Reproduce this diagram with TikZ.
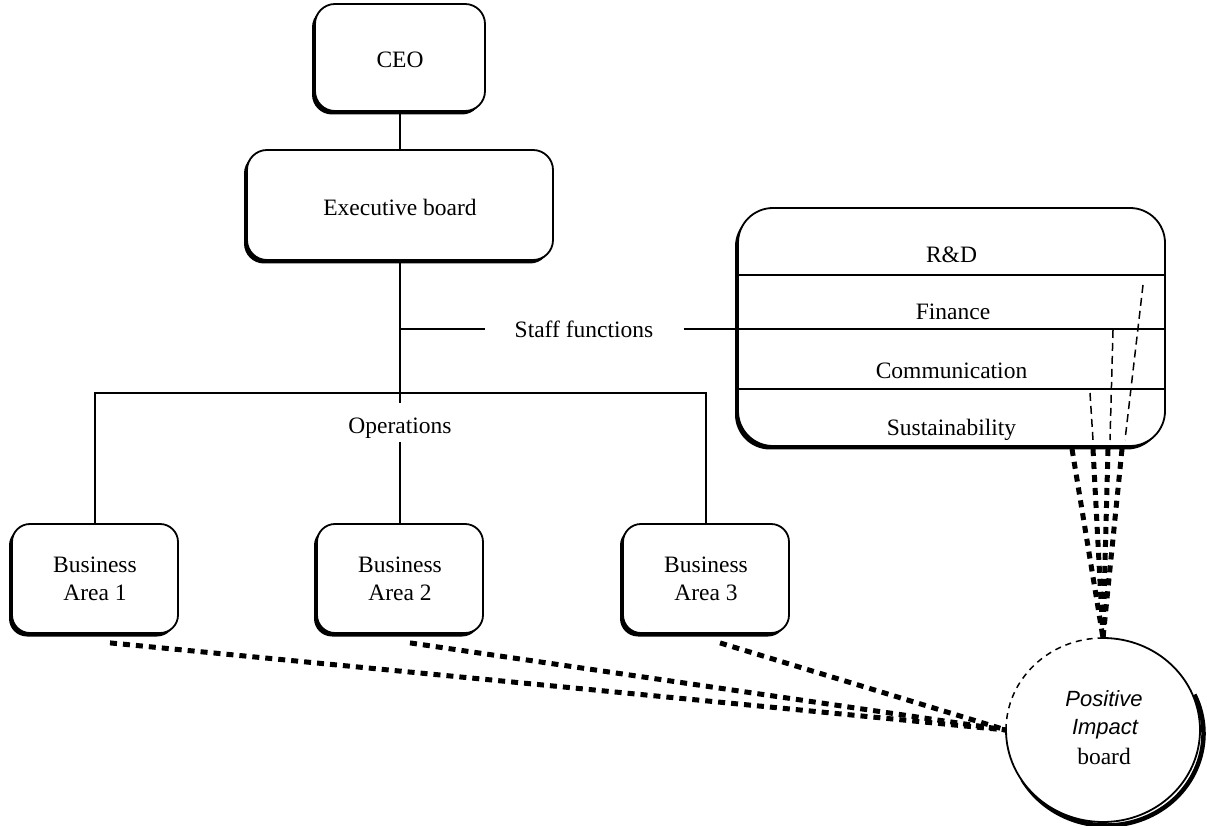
\documentclass[tikz,border=0pt]{standalone}
\usepackage{fontspec}
\setmainfont{Liberation Serif}
\newfontfamily\pibsans{Liberation Sans}
\usetikzlibrary{shadows,shapes.geometric,calc}
\begin{document}
\begin{tikzpicture}[x=1pt,y=1pt,
  every node/.style={font=\fontsize{23.5}{28}\selectfont},
  orgbox/.style={draw, line width=1.8pt, fill=white, rounded corners=#1,
    align=center, inner sep=0pt,
    drop shadow={shadow xshift=-3pt, shadow yshift=-3.5pt, opacity=1, fill=black}},
  oneline/.style={text height=21pt, text depth=0pt},
  link/.style={line width=1.4pt},
  divider/.style={line width=1.6pt},
  feed/.style={line width=5pt, dash pattern=on 7pt off 6pt},
  trace/.style={line width=1.5pt, dash pattern=on 8pt off 5pt},
  pibtext/.style={font=\fontsize{22}{26}\selectfont\pibsans\itshape},
]
\useasboundingbox (0,0) rectangle (1207,825);

% hierarchy boxes
\node[orgbox=20pt, oneline, minimum width=170pt, minimum height=107pt] (ceo) at (400,767.5) {CEO};
\node[orgbox=20pt, oneline, minimum width=306pt, minimum height=110pt] (exec) at (400,620) {Executive board};
\node[orgbox=18pt, minimum width=166pt, minimum height=109pt] (ba1) at (95,246.5) {Business\\Area 1};
\node[orgbox=18pt, minimum width=166pt, minimum height=109pt] (ba2) at (400,246.5) {Business\\Area 2};
\node[orgbox=18pt, minimum width=166pt, minimum height=109pt] (ba3) at (706,246.5) {Business\\Area 3};

% staff functions box with its four rows
\node[orgbox=35pt, minimum width=427pt, minimum height=238pt] (staff) at (951.5,498) {};
\draw[divider] (staff.west |- 0,550) -- (staff.east |- 0,550);
\draw[divider] (staff.west |- 0,496) -- (staff.east |- 0,496);
\draw[divider] (staff.west |- 0,436) -- (staff.east |- 0,436);
\node (rd)  at (951.5,570) {R\&D};
\node (fin) at (953,513) {Finance};
\node (com) at (951.5,454.5) {Communication};
\node (sus) at (951.5,395) {Sustainability};

% labels on the connector tree
\node (ops) at (400,397) {Operations};
\node[inner xsep=30pt] (sf) at (584,496) {Staff functions};

% connector tree
\coordinate (sj)  at (400,496);
\coordinate (bus) at (400,432);
\draw[link] (ceo.south) -- (exec.north);
\draw[link] (exec.south) -- ($(ops.north)+(0,11)$);
\draw[link] (sj) -- (sf.west);
\draw[link] (sf.east) -- (staff.west |- sf.east);
\draw[link] (ba1.north) |- (bus) -| (ba3.north);
\draw[link] (ops.south) -- (ba2.north);

% Positive Impact board
\node[ellipse, minimum width=194pt, minimum height=184pt, inner sep=0pt, outer sep=0pt] (pib) at (1103,95) {};
\draw[line width=4.5pt] ($(pib.center)+(3.5,-3.5)+(25:97 and 92)$)
  arc[start angle=25, end angle=-150, x radius=97, y radius=92];
\draw[line width=1.8pt, fill=white] (pib.north)
  arc[start angle=90, end angle=-180, x radius=97, y radius=92];
\draw[line width=1.5pt, dash pattern=on 6pt off 5pt] (pib.west)
  arc[start angle=180, end angle=90, x radius=97, y radius=92];
\node[pibtext] (pos) at (1104,126) {Positive};
\node[pibtext] (imp) at (1105,96) {Impact};
\node (brd) at (1104,69) {board};

% traces from the staff rows down through the box
\coordinate (ta1) at (1143,540); \coordinate (ta2) at (1125,385);
\coordinate (tb1) at (1113,495); \coordinate (tb2) at (1110,385);
\coordinate (tc1) at (1090,432); \coordinate (tc2) at (1093,385);
\draw[trace] (ta1) -- (ta2);
\draw[trace] (tb1) -- (tb2);
\draw[trace] (tc1) -- (tc2);

% thick links from the staff box to the board
\coordinate (s1) at (1072,376);
\coordinate (s2) at (1093,376);
\coordinate (s3) at (1108,376);
\coordinate (s4) at (1122,376);
\foreach \s in {s1,s2,s3,s4}
  \draw[feed] (\s) -- (pib.north);

% thick links from the business areas to the board
\draw[feed] ($(ba1.south)+(15,-9)$) -- (pib.west);
\draw[feed] ($(ba2.south)+(10,-9)$) -- (pib.west);
\draw[feed] ($(ba3.south)+(14,-9)$) -- (pib.west);
\end{tikzpicture}
\end{document}
